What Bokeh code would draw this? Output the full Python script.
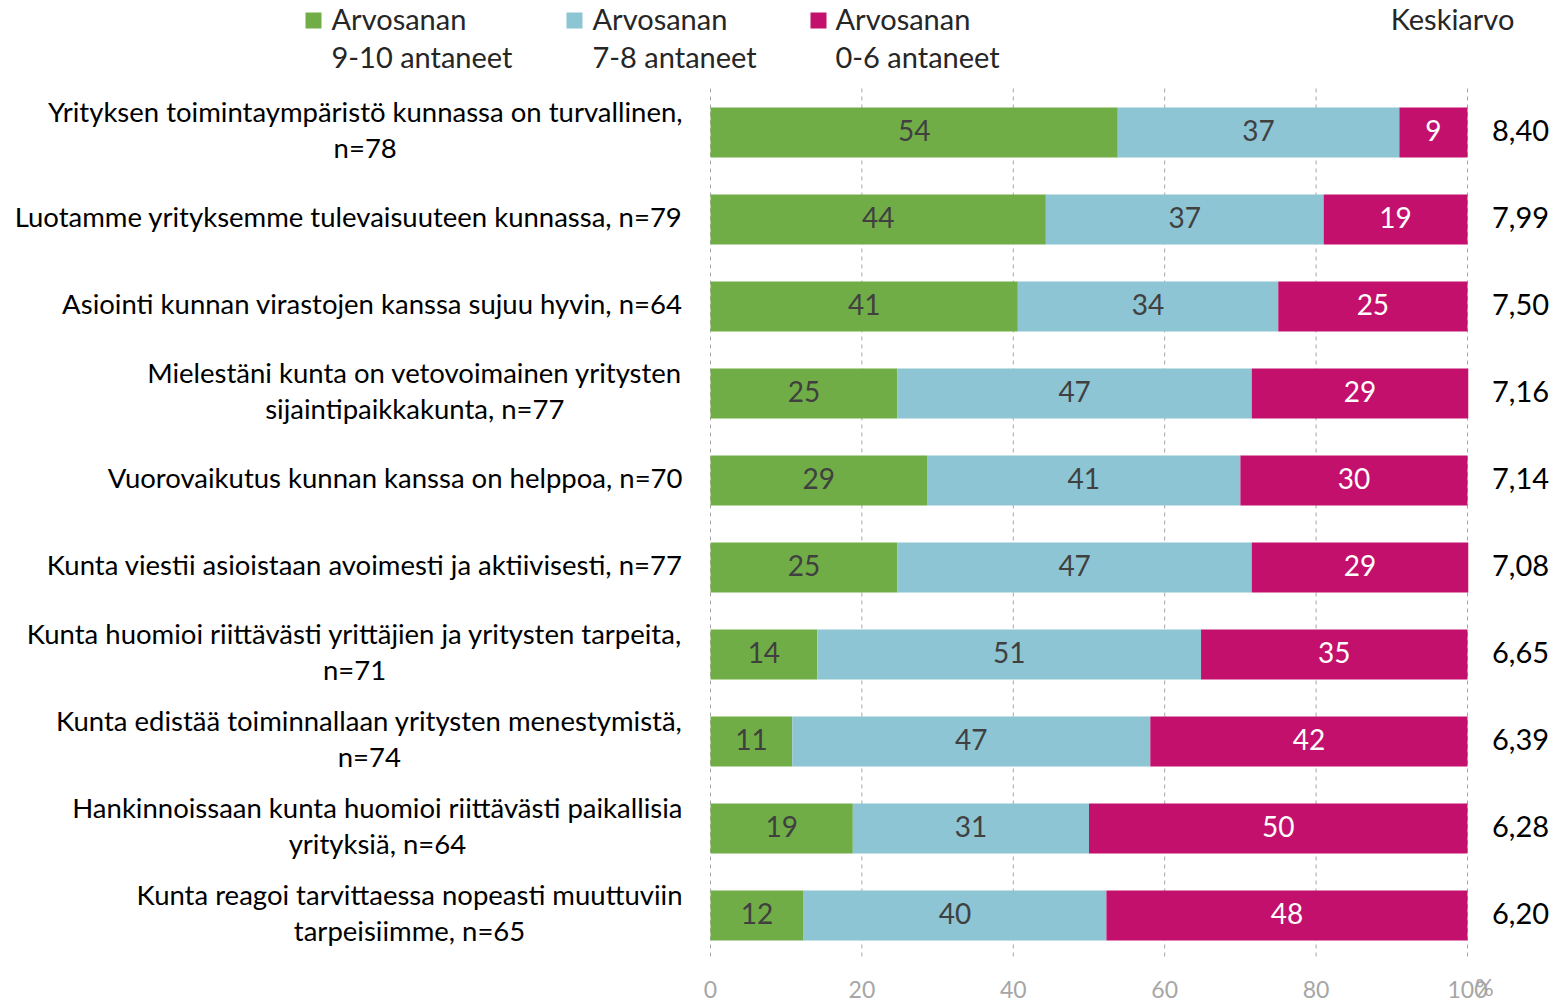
from bokeh.plotting import figure
from bokeh.models import Range1d, ColumnDataSource
from bokeh.core.properties import value
from bokeh.embed import file_html
from bokeh.resources import INLINE

# ---------------- data ----------------
categories = [
    "Yrityksen toimintaympäristö kunnassa on turvallinen,\nn=78",
    "Luotamme yrityksemme tulevaisuuteen kunnassa, n=79",
    "Asiointi kunnan virastojen kanssa sujuu hyvin, n=64",
    "Mielestäni kunta on vetovoimainen yritysten\nsijaintipaikkakunta, n=77",
    "Vuorovaikutus kunnan kanssa on helppoa, n=70",
    "Kunta viestii asioistaan avoimesti ja aktiivisesti, n=77",
    "Kunta huomioi riittävästi yrittäjien ja yritysten tarpeita,\nn=71",
    "Kunta edistää toiminnallaan yritysten menestymistä,\nn=74",
    "Hankinnoissaan kunta huomioi riittävästi paikallisia\nyrityksiä, n=64",
    "Kunta reagoi tarvittaessa nopeasti muuttuviin\ntarpeisiimme, n=65",
]
grade_9_10 = [53.8, 44.3, 40.6, 24.7, 28.6, 24.7, 14.1, 10.8, 18.8, 12.3]
grade_7_8 = [37.2, 36.7, 34.4, 46.8, 41.4, 46.8, 50.7, 47.3, 31.2, 40.0]
grade_0_6 = [9.0, 19.0, 25.0, 28.6, 30.0, 28.6, 35.2, 41.9, 50.0, 47.7]
averages = [8.40, 7.99, 7.50, 7.16, 7.14, 7.08, 6.65, 6.39, 6.28, 6.20]
series_names = [("Arvosanan", "9-10 antaneet"), ("Arvosanan", "7-8 antaneet"), ("Arvosanan", "0-6 antaneet")]
x_ticks = [0, 20, 40, 60, 80, 100]
avg_title = "Keskiarvo"

# ---------------- layout helpers ----------------
W, H = 1566, 1002
OFF = 0                       # page offset of the canvas
X0, X100 = 710, 1467          # page px of 0 and 100
K = (X100 - X0) / 100.0       # px per unit
ROW = 87.0                    # px per row
Y_FIRST = 132                 # page px of first row centre
FONT = "Lato"
YOFF = -2                     # small baseline correction for the font

def dx(px):
    return (px - X0) / K

def dy(py):
    return (py - Y_FIRST) / ROW

colors = ["#70AD47", "#8DC5D4", "#C3106C"]
label_colors = ["#404040", "#404040", "#FFFFFF"]

p = figure(width=W, height=H, output_backend="svg", toolbar_location=None,
           x_range=Range1d(dx(OFF), dx(OFF + W)), y_range=Range1d(dy(OFF + H), dy(OFF)),
           min_border=0, min_border_left=0, min_border_right=0,
           min_border_top=0, min_border_bottom=0)
p.axis.visible = False
p.grid.visible = False
p.outline_line_color = None
p.background_fill_color = "white"
p.border_fill_color = "white"

rows = list(range(len(categories)))

# gridlines
p.segment(x0=x_ticks, x1=x_ticks, y0=[dy(88)] * len(x_ticks), y1=[dy(957)] * len(x_ticks),
          line_color="#A6A6A6", line_width=1, line_dash="4 4")

# stacked bars
series = [grade_9_10, grade_7_8, grade_0_6]
lefts = [0.0] * len(rows)
for s, vals in enumerate(series):
    rights = [l + v for l, v in zip(lefts, vals)]
    src = ColumnDataSource(dict(y=rows, left=lefts, right=rights,
                                xc=[(l + r) / 2 for l, r in zip(lefts, rights)],
                                lab=["%d" % round(v) for v in vals]))
    p.hbar(y="y", left="left", right="right", height=50 / ROW, source=src,
           fill_color=colors[s], line_color=None)
    p.text(x="xc", y="y", text="lab", source=src, text_font=value(FONT),
           text_font_size="28px", text_color=label_colors[s], y_offset=YOFF,
           text_align="center", text_baseline="middle")
    lefts = rights

# category labels
p.text(x=[dx(682)] * len(rows), y=rows, text=categories, text_font=value(FONT),
       text_font_size="27.5px", text_color="#000000", anchor="center_right",
       text_align="center", text_baseline="middle", text_line_height=1.1, y_offset=YOFF - 1)

# averages
p.text(x=[dx(1520)] * len(rows), y=rows, text=[("%.2f" % a).replace(".", ",") for a in averages],
       text_font=value(FONT), text_font_size="29px", text_color="#000000", y_offset=YOFF,
       text_align="center", text_baseline="middle")
p.text(x=[dx(1452)], y=[dy(20)], text=[avg_title], text_font=value(FONT), y_offset=YOFF,
       text_font_size="29px", text_color="#262626", text_align="center", text_baseline="middle")

# x tick labels
p.text(x=x_ticks, y=[dy(989)] * len(x_ticks), text=[str(t) for t in x_ticks],
       text_font=value(FONT), text_font_size="23px", text_color="#A6A6A6",
       text_align="center", text_baseline="middle")
p.text(x=[dx(1484)], y=[dy(986)], text=["%"], text_font=value(FONT),
       text_font_size="23px", text_color="#A6A6A6", text_align="center", text_baseline="middle")

# legend
leg_sq_x = [313, 574, 818]
leg_tx_x = [331, 592, 835]
for i, (l1, l2) in enumerate(series_names):
    p.scatter(x=[dx(leg_sq_x[i])], y=[dy(20)], marker="square", size=16,
              fill_color=colors[i], line_color=None)
    p.text(x=[dx(leg_tx_x[i])] * 2, y=[dy(20), dy(58)], text=[l1, l2], text_font=value(FONT),
           text_font_size="29px", text_color="#262626", text_align="left", text_baseline="middle",
           y_offset=YOFF)

open("out.html", "w").write(file_html(p, INLINE))
